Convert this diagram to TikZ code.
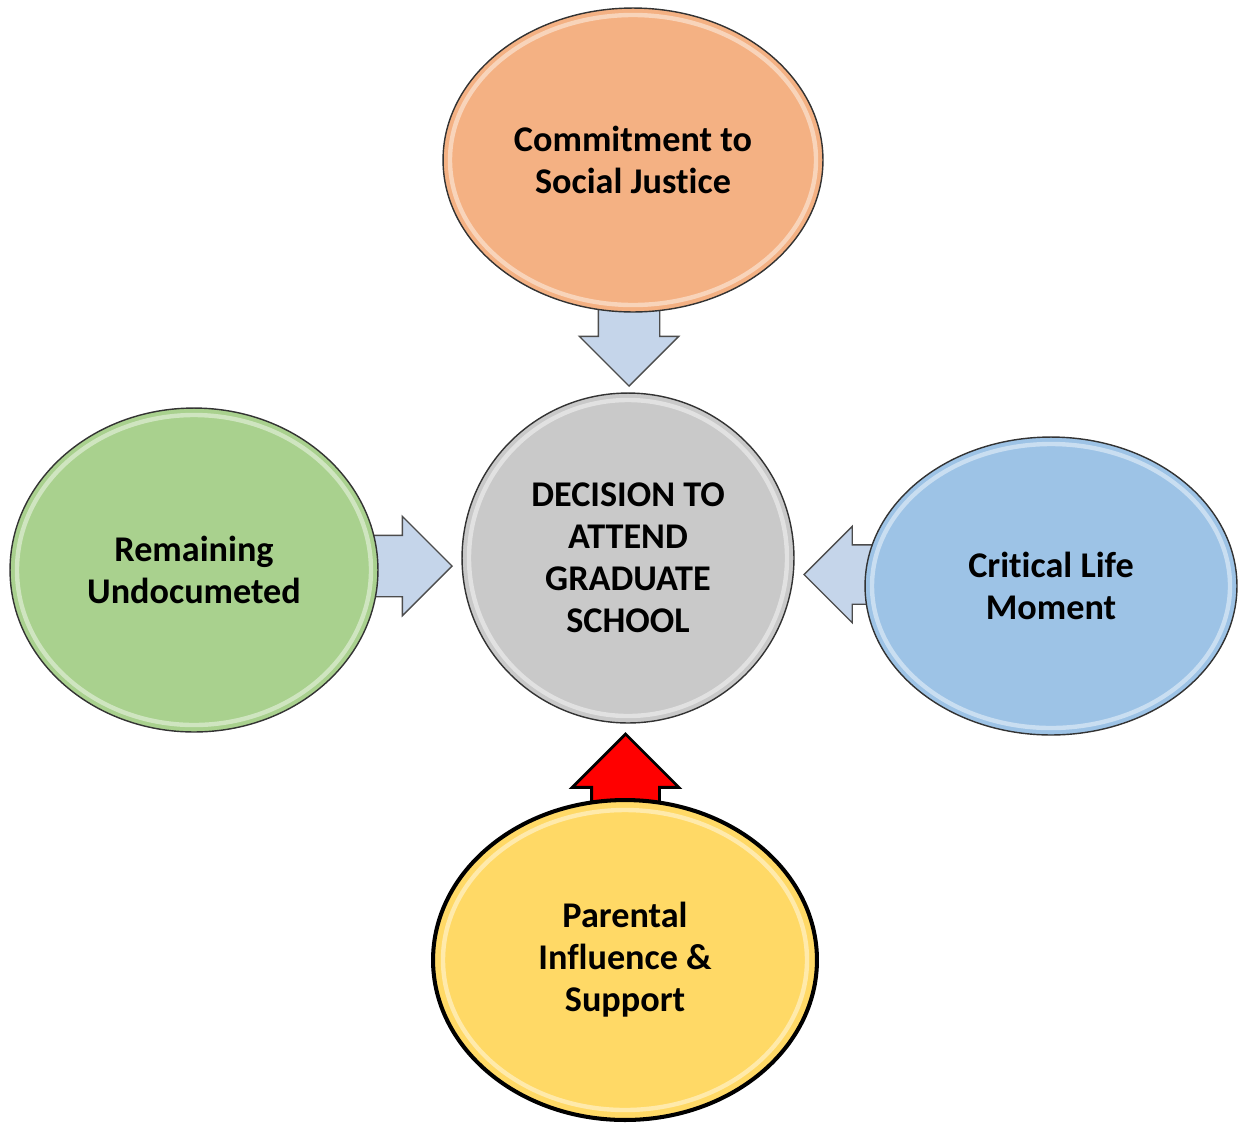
\documentclass[tikz,border=0pt]{standalone}
\usepackage{fontspec}
\setmainfont{Carlito}[Ligatures=NoCommon]
\usetikzlibrary{shapes.geometric,shapes.arrows}

\definecolor{socialfill}{RGB}{244,177,131}
\definecolor{decisionfill}{RGB}{201,201,201}
\definecolor{undocfill}{RGB}{169,209,142}
\definecolor{criticalfill}{RGB}{157,195,230}
\definecolor{parentalfill}{RGB}{255,217,102}
\definecolor{pushfill}{RGB}{197,213,234}

\tikzset{
  factor/.style={ellipse, draw=black!80, line width=0.8pt, inner sep=0pt, align=center,
    font=\fontsize{20.6}{23.9}\selectfont\bfseries},
  push/.style={single arrow, draw=black!70, line width=0.8pt, fill=pushfill, inner xsep=0pt,
    single arrow tip angle=90, anchor=tip},
  rim/.style={draw=white, opacity=.45, line width=2.5pt}
}

\begin{document}
\begin{tikzpicture}[x=0.02cm, y=-0.02cm]
        \useasboundingbox (0, 0) rectangle (1243, 1123);
        % arrows
        \node[push, rotate=-90, minimum height=1.56cm, inner ysep=0.6cm,
          single arrow head extend=0.38cm] (downarrow) at (629, 387) {};
        \node[push, minimum height=1.58cm, inner ysep=0.6cm,
          single arrow head extend=0.38cm] (rightarrow) at (453, 566) {};
        \node[push, rotate=180, minimum height=1.4cm, inner ysep=0.58cm,
          single arrow head extend=0.37cm] (leftarrow) at (803, 574.5) {};
        \node[push, rotate=90, fill=red, draw=black, line width=1.6pt, minimum height=1.4cm,
          inner ysep=0.65cm, single arrow head extend=0.39cm] (uparrow) at (625.5, 732) {};
        % factors
        \node[factor, fill=socialfill, minimum width=7.6cm, minimum height=6.08cm]
          (social) at (633, 160) {Commitment to\\Social Justice};
        \node[factor, fill=decisionfill, minimum width=6.64cm, minimum height=6.6cm]
          (decision) at (628, 558) {DECISION TO\\ATTEND\\GRADUATE\\SCHOOL};
        \node[factor, fill=undocfill, minimum width=7.36cm, minimum height=6.48cm]
          (undoc) at (194, 570) {Remaining\\Undocumeted};
        \node[factor, fill=criticalfill, minimum width=7.44cm, minimum height=5.96cm]
          (critical) at (1051, 586) {Critical Life\\Moment};
        \node[factor, fill=parentalfill, draw=black, line width=2.3pt, minimum width=7.68cm,
          minimum height=6.4cm] (parental) at (625, 960) {Parental\\Influence \&\\Support};
        % glossy rims
        \foreach \n/\rx/\ry in {social/183/145, decision/159/158, undoc/177/155,
          critical/179/142, parental/182/150}
          \draw[rim] (\n.center) ellipse ({\rx} and {\ry});
\end{tikzpicture}
\end{document}
